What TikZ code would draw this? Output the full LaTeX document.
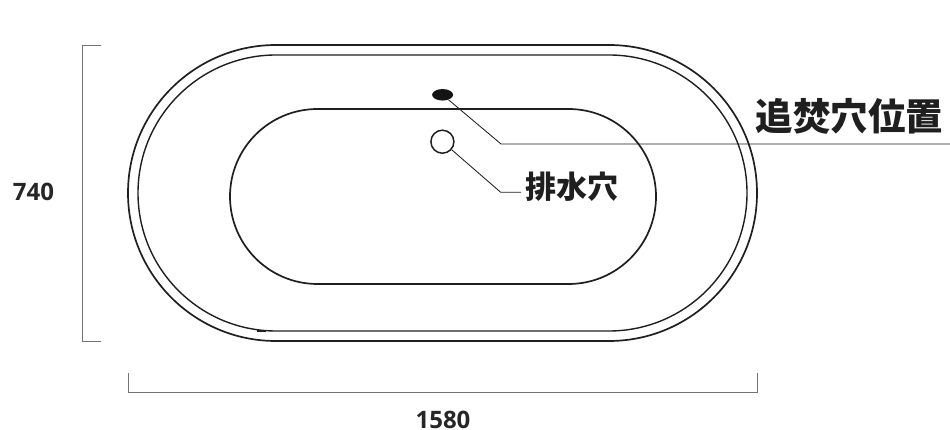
\documentclass[tikz,border=0pt]{standalone}
\usepackage{fontspec}
\newfontfamily\cjk{Noto Sans CJK JP}
\newfontfamily\numfont{Open Sans}
\usetikzlibrary{shapes.geometric,positioning}

\begin{document}
\begin{tikzpicture} [x=1pt,y=-1pt,{rim/.style={draw=black!88,line width=1.7pt}},{hole/.style={circle,draw=black!88,line width=1.5pt,minimum size=23pt,inner sep=0pt}},{port/.style={ellipse,fill=black!92,minimum width=21pt,minimum height=11.5pt,inner sep=0pt}},{leader/.style={color=black!88,line width=0.85pt}},{dimline/.style={color=black!55,line width=0.9pt}},{size/.style={font=\numfont\bfseries\fontsize{24}{24}\selectfont,text=black!85,inner sep=0pt}},{callout/.style={font=\cjk\bfseries,text=black!88,inner sep=0pt}}]
		\useasboundingbox (0,0) rectangle (950,430);
		%%tub outline
		\draw [rim] (128,45) [rounded corners=148pt] rectangle (757,341);
		\draw [rim,line width=1.4pt] (138,55) [rounded corners=138pt] rectangle (747,331);
		\draw [rim] (230,109) [rounded corners=87.5pt] rectangle (656,284);
		\draw [rim,line width=2.2pt] (257,331) -- (266,331);
		%%holes
		\node at (442.6,94.8) [port] (port1) {};
		\node at (442.4,141.7) [hole] (drain1) {};
		%%callouts
		\node at (849.5,116.5) [callout,font=\cjk\bfseries\fontsize{37.5}{37.5}\selectfont] (label1) {追焚穴位置};
		\node at (571.5,187) [callout,font=\cjk\bfseries\fontsize{31}{31}\selectfont] (label2) {排水穴};
		\coordinate (bend1) at (501,144);
		\coordinate (end1) at (950,144);
		\coordinate (bend2) at (500.7,192.3);
		\coordinate (end2) at (521,192.3);
		\draw [leader] (port1) -- (bend1) -- (end1);
		\draw [leader] (drain1) -- (bend2) -- (end2);
		%%dimensions
		\coordinate (a1) at (101,45);
		\coordinate (a2) at (82,45);
		\coordinate (a3) at (82,341);
		\coordinate (a4) at (101,341);
		\draw [dimline] (a1) -- (a2) -- (a3) -- (a4);
		\coordinate (b1) at (128,373);
		\coordinate (b2) at (128,392);
		\coordinate (b3) at (757,392);
		\coordinate (b4) at (757,373);
		\draw [dimline] (b1) -- (b2) -- (b3) -- (b4);
		\node at (33.5,192) [size] (height1) {740};
		\node at (443,420) [size] (width1) {1580};
	\end{tikzpicture}
\end{document}
